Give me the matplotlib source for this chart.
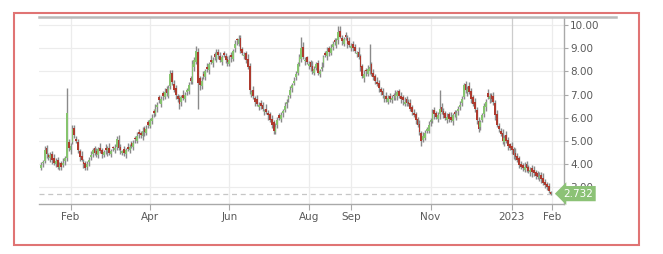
"""
Daily candlestick chart, Jan 2022 - Jan 2023, last price 2.732
Saves out.png (663x254)
"""

import matplotlib
matplotlib.use('Agg')
import matplotlib.pyplot as plt
import matplotlib.transforms as mtransforms
from matplotlib.lines import Line2D
from matplotlib.patches import Rectangle
import numpy as np
import pandas as pd

matplotlib.rcParams['font.family'] = 'DejaVu Sans'

# ---- data ----
START_DATE = '2022-01-10'
LAST_PRICE = 2.732

opens = [
    3.85, 4.05, 4.15, 4.70, 4.40, 4.25, 4.45, 4.25, 4.00, 4.20,
    3.85, 4.05, 3.95, 4.15, 4.25, 4.95, 4.60, 4.95, 5.55, 5.10,
    4.95, 4.55, 4.35, 4.10, 4.05, 3.90, 4.10, 4.30, 4.45, 4.70,
    4.55, 4.40, 4.70, 4.60, 4.40, 4.70, 4.55, 4.72, 4.45, 4.70,
    4.60, 4.75, 5.05, 4.75, 4.50, 4.65, 4.45, 4.75, 4.60, 4.90,
    4.75, 5.10, 5.00, 5.40, 5.35, 5.20, 5.55, 5.35, 5.80, 5.65,
    5.85, 6.30, 6.15, 6.45, 6.90, 6.60, 7.05, 6.90, 7.25, 6.95,
    7.35, 7.95, 7.45, 7.30, 6.95, 6.85, 6.70, 7.00, 6.80, 7.10,
    7.15, 7.70, 7.55, 8.20, 8.40, 8.85, 7.70, 7.35, 7.90, 7.75,
    8.20, 8.05, 8.50, 8.35, 8.75, 8.55, 8.85, 8.65, 8.40, 8.80,
    8.65, 8.55, 8.30, 8.70, 8.55, 9.00, 9.35, 9.20, 9.45, 8.95,
    8.65, 8.80, 8.55, 8.25, 7.00, 7.20, 6.85, 6.80, 6.45, 6.65,
    6.55, 6.25, 6.40, 6.20, 6.15, 5.95, 5.80, 5.40, 5.70, 6.10,
    5.95, 6.20, 6.35, 6.60, 6.80, 7.00, 7.30, 7.50, 7.75, 7.95,
    8.35, 8.55, 9.05, 8.45, 8.60, 8.25, 8.40, 8.25, 7.95, 8.15,
    8.35, 7.90, 8.10, 8.35, 8.80, 8.65, 9.00, 8.80, 9.05, 9.35,
    9.15, 9.35, 9.75, 9.45, 9.20, 9.55, 9.45, 9.30, 9.00, 9.20,
    9.05, 8.75, 8.85, 8.65, 8.25, 7.70, 8.05, 7.90, 8.00, 8.30,
    7.95, 7.80, 7.55, 7.50, 7.25, 7.15, 6.85, 6.95, 6.70, 6.95,
    6.75, 6.95, 6.85, 6.95, 7.15, 6.95, 6.90, 6.60, 6.80, 6.70,
    6.65, 6.45, 6.20, 6.15, 5.95, 5.75, 5.35, 5.05, 5.15, 5.45,
    5.45, 5.80, 5.85, 6.35, 6.20, 5.95, 6.15, 6.45, 6.30, 6.20,
    5.90, 6.15, 6.05, 5.85, 6.25, 6.05, 6.30, 6.45, 6.65, 6.90,
    7.45, 7.10, 7.35, 7.15, 6.90, 6.70, 6.35, 5.85, 5.60, 5.90,
    6.15, 6.45, 7.05, 6.80, 7.00, 6.95, 6.65, 6.15, 5.65, 5.45,
    5.35, 4.95, 5.25, 5.05, 4.85, 4.80, 4.65, 4.50, 4.35, 4.25,
    4.00, 3.95, 3.75, 4.00, 3.90, 3.65, 3.85, 3.75, 3.65, 3.60,
    3.40, 3.55, 3.40, 3.25, 3.15, 3.05, 2.80,
]

closes = [
    3.95, 4.10, 4.60, 4.45, 4.30, 4.38, 4.20, 4.05, 4.15, 3.90,
    3.95, 3.90, 4.05, 4.25, 6.20, 4.70, 4.80, 5.50, 5.25, 5.00,
    4.60, 4.30, 4.20, 4.00, 3.85, 4.00, 4.20, 4.40, 4.60, 4.50,
    4.42, 4.65, 4.55, 4.45, 4.52, 4.60, 4.68, 4.50, 4.55, 4.65,
    4.70, 5.10, 4.70, 4.60, 4.55, 4.50, 4.60, 4.65, 4.75, 4.80,
    4.90, 5.05, 5.20, 5.30, 5.25, 5.45, 5.40, 5.50, 5.70, 5.90,
    6.00, 6.20, 6.40, 6.55, 6.75, 6.80, 6.95, 7.10, 7.05, 7.30,
    7.90, 7.55, 7.20, 7.00, 6.80, 6.60, 6.90, 6.85, 7.00, 7.20,
    7.40, 7.60, 8.30, 8.50, 8.90, 7.50, 7.40, 7.60, 7.80, 8.00,
    8.10, 8.30, 8.40, 8.50, 8.60, 8.80, 8.70, 8.50, 8.60, 8.70,
    8.50, 8.40, 8.50, 8.60, 8.90, 9.20, 9.30, 9.40, 8.90, 8.80,
    8.70, 8.50, 8.20, 7.20, 7.10, 6.95, 6.70, 6.60, 6.55, 6.50,
    6.40, 6.30, 6.25, 6.10, 5.90, 5.70, 5.45, 5.60, 5.90, 6.00,
    6.10, 6.30, 6.50, 6.70, 6.90, 7.20, 7.40, 7.60, 7.90, 8.30,
    8.60, 9.00, 8.60, 8.50, 8.40, 8.30, 8.20, 8.00, 8.10, 8.30,
    7.95, 8.00, 8.20, 8.60, 8.70, 8.90, 8.85, 9.00, 9.20, 9.25,
    9.30, 9.70, 9.50, 9.30, 9.40, 9.50, 9.20, 9.15, 9.10, 9.00,
    8.90, 8.80, 8.60, 8.20, 7.80, 7.90, 8.00, 8.10, 8.20, 7.90,
    7.75, 7.60, 7.45, 7.30, 7.10, 7.00, 6.90, 6.80, 6.85, 6.80,
    6.85, 6.90, 7.00, 7.10, 6.95, 6.80, 6.75, 6.70, 6.65, 6.60,
    6.40, 6.25, 6.10, 5.90, 5.70, 5.40, 5.00, 5.20, 5.35, 5.50,
    5.70, 5.90, 6.20, 6.15, 6.05, 6.10, 6.40, 6.25, 6.10, 6.00,
    6.05, 5.95, 5.90, 6.10, 6.15, 6.20, 6.40, 6.55, 6.80, 7.40,
    7.20, 7.25, 7.10, 6.80, 6.60, 6.40, 5.90, 5.50, 5.80, 6.10,
    6.50, 6.70, 6.90, 6.95, 6.80, 6.70, 6.10, 5.70, 5.50, 5.30,
    5.00, 5.15, 5.00, 4.80, 4.70, 4.60, 4.40, 4.30, 4.20, 3.95,
    3.90, 3.85, 3.90, 3.85, 3.70, 3.75, 3.65, 3.60, 3.50, 3.45,
    3.50, 3.35, 3.20, 3.10, 3.00, 2.85, 2.73,
]

# wick length above the body / below the body
wick_hi = [
    .15, .10, .20, .12, .08, .15, .10, .18, .12, .10,
    .15, .10, .20, .12, 1.10, .15, .10, .18, .12, .10,
    .15, .10, .20, .12, .08, .15, .10, .18, .12, .10,
    .15, .10, .20, .12, .08, .15, .10, .18, .12, .10,
    .15, .10, .20, .12, .08, .15, .10, .18, .12, .10,
    .15, .10, .20, .12, .08, .15, .10, .18, .12, .10,
    .15, .10, .20, .12, .08, .15, .10, .18, .12, .10,
    .15, .10, .20, .12, .08, .15, .10, .18, .12, .10,
    .15, .10, .20, .12, .20, .15, .10, .18, .12, .10,
    .15, .10, .20, .12, .08, .15, .10, .18, .12, .10,
    .15, .10, .20, .12, .08, .15, .10, .15, .12, .10,
    .15, .10, .20, .12, .08, .15, .10, .18, .12, .10,
    .15, .10, .20, .12, .08, .15, .10, .18, .12, .10,
    .15, .10, .20, .12, .08, .15, .10, .18, .12, .10,
    .15, .50, .20, .12, .08, .15, .10, .18, .12, .10,
    .15, .10, .20, .12, .08, .15, .10, .18, .12, .10,
    .15, .25, .20, .12, .08, .15, .10, .18, .12, .10,
    .15, .10, .20, .12, .08, .15, .10, .18, 1.00, .10,
    .15, .10, .20, .12, .08, .15, .10, .18, .12, .10,
    .15, .10, .20, .12, .08, .15, .10, .18, .12, .10,
    .15, .10, .20, .12, .08, .15, .10, .18, .12, .10,
    .15, .10, .20, .12, .08, .15, .80, .18, .12, .10,
    .15, .10, .20, .12, .08, .15, .10, .18, .12, .10,
    .15, .10, .20, .12, .08, .15, .10, .18, .12, .10,
    .15, .10, .20, .12, .08, .15, .10, .18, .12, .10,
    .15, .10, .20, .12, .08, .15, .10, .18, .12, .10,
    .15, .10, .20, .12, .08, .15, .10, .18, .12, .10,
    .15, .10, .20, .12, .08, .12, .05,
]

wick_lo = [
    .12, .15, .08, .18, .10, .15, .18, .10, .12, .10,
    .12, .15, .08, .18, .10, .15, .18, .10, .12, .10,
    .12, .15, .08, .18, .10, .15, .18, .10, .12, .10,
    .12, .15, .08, .18, .10, .15, .18, .10, .12, .10,
    .12, .15, .08, .18, .10, .15, .18, .10, .12, .10,
    .12, .15, .08, .18, .10, .15, .18, .10, .12, .10,
    .12, .15, .08, .18, .10, .15, .18, .10, .12, .10,
    .12, .15, .08, .18, .10, .20, .18, .10, .12, .10,
    .12, .15, .08, .18, .10, 1.10, .18, .10, .12, .10,
    .12, .15, .08, .18, .10, .15, .18, .10, .12, .10,
    .12, .15, .08, .18, .10, .15, .18, .10, .12, .10,
    .12, .15, .08, .18, .10, .15, .18, .10, .12, .10,
    .12, .15, .08, .18, .10, .15, .15, .10, .12, .10,
    .12, .15, .08, .18, .10, .15, .18, .10, .12, .10,
    .12, .15, .08, .18, .10, .15, .18, .10, .12, .10,
    .12, .15, .08, .18, .10, .15, .18, .10, .12, .10,
    .12, .15, .08, .18, .10, .15, .18, .10, .12, .10,
    .12, .15, .08, .18, .10, .15, .18, .10, .12, .10,
    .12, .15, .08, .18, .10, .15, .18, .10, .12, .10,
    .12, .15, .08, .18, .10, .15, .18, .10, .12, .10,
    .12, .15, .08, .18, .10, .15, .20, .10, .12, .10,
    .12, .15, .08, .18, .10, .15, .18, .10, .12, .10,
    .12, .15, .08, .18, .10, .15, .18, .10, .12, .10,
    .12, .15, .08, .18, .10, .15, .18, .10, .12, .10,
    .12, .15, .08, .18, .10, .15, .18, .10, .12, .10,
    .12, .15, .08, .18, .10, .15, .18, .10, .12, .10,
    .12, .15, .08, .18, .10, .15, .18, .10, .12, .10,
    .12, .15, .08, .12, .10, .10, .05,
]

y_ticks = [3, 4, 5, 6, 7, 8, 9, 10]
tick_months = ['2022-02', '2022-04', '2022-06', '2022-08', '2022-09',
               '2022-11', '2023-01', '2023-02']
tick_labels = ['Feb', 'Apr', 'Jun', 'Aug', 'Sep', 'Nov', '2023', 'Feb']

# ---- colours ----
COLOR_UP = '#86c46e'
COLOR_DOWN = '#ad3a2e'
COLOR_WICK = '#8a8a8a'
COLOR_GRID = '#ececec'
COLOR_AXIS = '#a9a9a9'
COLOR_TEXT = '#5a5a5a'
COLOR_LABEL = '#8cc276'
COLOR_FRAME = '#e07474'

o = np.array(opens)
c = np.array(closes)
hi = np.maximum(o, c) + np.array(wick_hi)
lo = np.minimum(o, c) - np.array(wick_lo)
x = np.arange(len(closes))

# business-day axis: a tick sits on the first business day of its month
all_days = pd.bdate_range(START_DATE, periods=len(closes) + 10)
tick_pos = [int(np.searchsorted(all_days, pd.Timestamp(m + '-01'))) for m in tick_months]

fig = plt.figure(figsize=(6.63, 2.54), dpi=100)
ax = fig.add_axes([39 / 663, 1 - 204 / 254, 525 / 663, 187 / 254])

# grid
for yv in y_ticks:
    ax.axhline(yv, color=COLOR_GRID, lw=0.8, zorder=0)
for p, lab in zip(tick_pos, tick_labels):
    col = '#cccccc' if lab.isdigit() else COLOR_GRID
    ax.axvline(p, color=col, lw=0.9, zorder=0)

# last price dashed line
ax.axhline(LAST_PRICE, xmax=0.985, color='#c6c6c6', lw=0.9, ls=(0, (4, 3)), zorder=1)

# candles
ax.vlines(x, lo, hi, color=COLOR_WICK, lw=1.0, zorder=2)
body = c - o
colors = [COLOR_UP if b > 0 else COLOR_DOWN for b in body]
ax.bar(x, np.where(np.abs(body) < 0.05, 0.05, body), bottom=o, width=0.95,
       color=colors, edgecolor='none', zorder=3)

ax.set_xlim(-1.1, 283.3)
ax.set_ylim(2.285, 10.345)

# axes styling
ax.yaxis.tick_right()
ax.set_yticks(y_ticks)
ax.set_yticklabels([f'{v:.2f}' for v in y_ticks])
ax.set_xticks(tick_pos)
ax.set_xticklabels(tick_labels)
ax.tick_params(axis='y', length=3, width=0.8, color=COLOR_AXIS, labelsize=7.5,
               labelcolor=COLOR_TEXT, pad=1.5)
ax.tick_params(axis='x', length=4, width=0.8, color=COLOR_AXIS, labelsize=7.5,
               labelcolor=COLOR_TEXT, pad=2)
for side in ['left', 'top']:
    ax.spines[side].set_visible(False)
for side in ['right', 'bottom']:
    ax.spines[side].set_color(COLOR_AXIS)
    ax.spines[side].set_linewidth(1.0)

# last price tag (covers part of the 3.00 label, as in the original)
trans = mtransforms.blended_transform_factory(ax.transAxes, ax.transData)
ax.text(1.027, LAST_PRICE, f'{LAST_PRICE:.3f}', transform=trans, ha='center', va='center',
        color='white', fontsize=7.5, clip_on=False, zorder=10,
        bbox=dict(boxstyle='larrow,pad=0.25', fc=COLOR_LABEL, ec='none'))

# gray line across the top and red frame around everything
fig.add_artist(Line2D([39 / 663, 616 / 663], [1 - 17 / 254, 1 - 17 / 254],
                      color='#b9b9b9', lw=1.8))
fig.add_artist(Rectangle((14 / 663, 1 - 245 / 254), 625 / 663, 232 / 254,
                         fill=False, ec=COLOR_FRAME, lw=1.5))

fig.savefig('out.png', dpi=100, facecolor='white')
